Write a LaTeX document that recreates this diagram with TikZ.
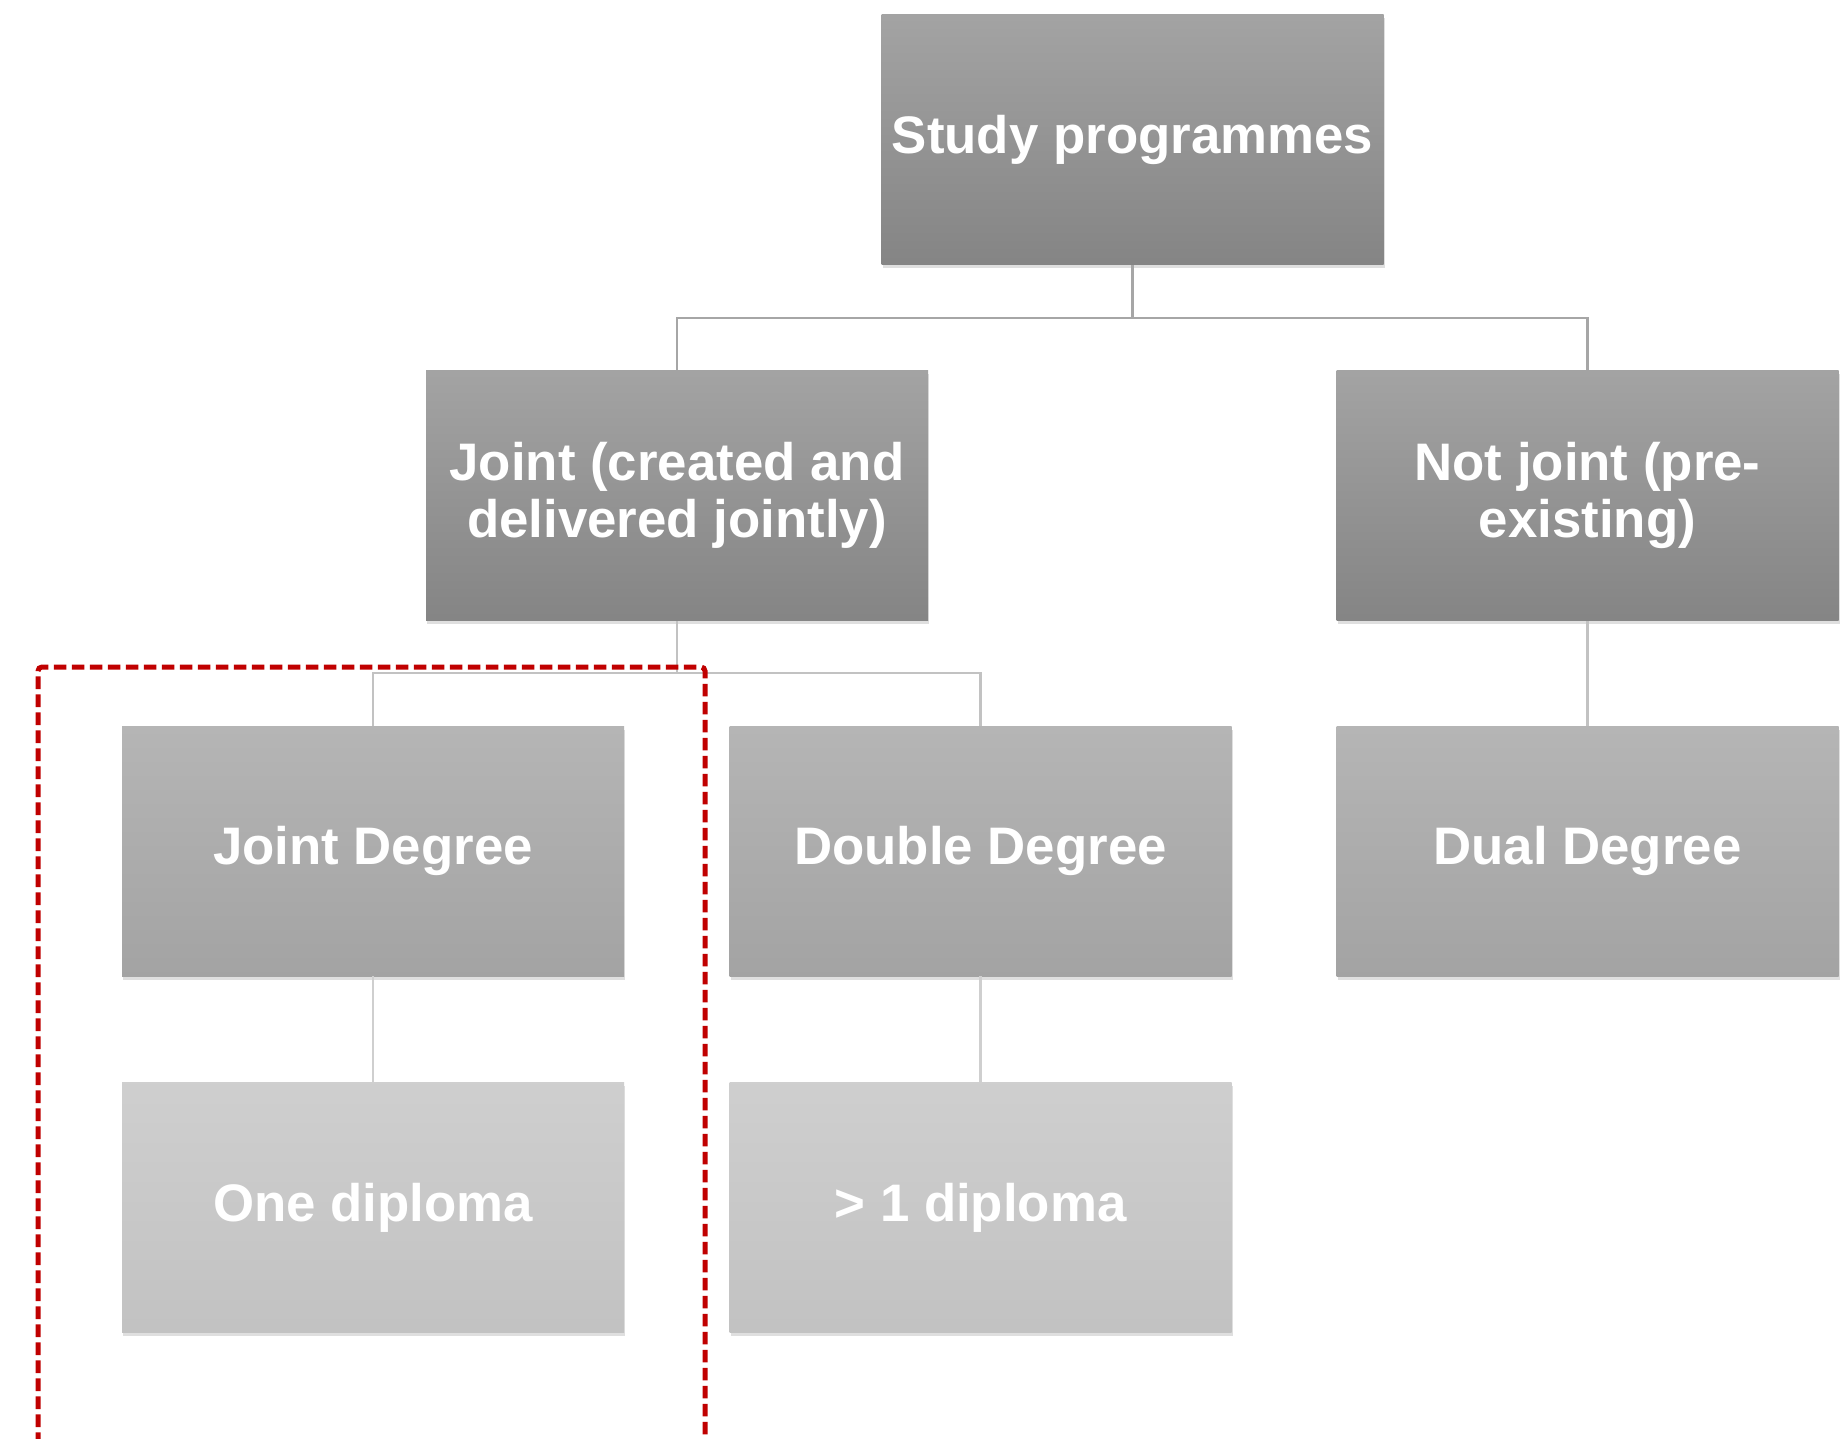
\documentclass[tikz,border=0pt]{standalone}
\usepackage{fontspec}
\setmainfont{Liberation Sans}
\usetikzlibrary{shadows}
\definecolor{redline}{HTML}{C00000}
\tikzset{
  box/.style={rectangle, minimum width=251pt, minimum height=125pt, inner sep=0pt,
    text=white, align=center, font=\bfseries\fontsize{26.4}{28.3}\selectfont,
    drop shadow={opacity=0.25, shadow xshift=0.6pt, shadow yshift=-1.8pt}},
  lvlA/.style={box, top color=black!36, bottom color=black!48},
  lvlB/.style={box, top color=black!29, bottom color=black!36},
  lvlC/.style={box, top color=black!19, bottom color=black!24},
  connA/.style={draw=black!35, line width=1.2pt},
  connB/.style={draw=black!24, line width=1.2pt},
  connC/.style={draw=black!19, line width=1.2pt},
  focus/.style={draw=redline, line width=2.5pt, dash pattern=on 6.3pt off 2.7pt, rounded corners=2pt}
}
\begin{document}
\begin{tikzpicture}[x=0.5pt, y=-0.5pt]
\useasboundingbox (0,0) rectangle (1846,1439);
\fill[white] (0,0) rectangle (1846,1439);

\node[lvlA] (top) at (1132.5,139.5) {\raisebox{-1pt}{Study programmes}};
\node[lvlA] (joint) at (677,495.5) {Joint (created and\\delivered jointly)};
\node[lvlA] (notjoint) at (1587.5,495.5) {Not joint (pre-\\existing)};
\node[lvlB] (jd) at (373,851) {\raisebox{-1pt}{Joint Degree}};
\node[lvlB] (dd) at (980.5,851) {\raisebox{-1pt}{Double Degree}};
\node[lvlB] (dual) at (1587.5,851) {\raisebox{-1pt}{Dual Degree}};
\node[lvlC] (one) at (373,1207.5) {\raisebox{-1pt}{One diploma}};
\node[lvlC] (more) at (980.5,1207.5) {\raisebox{-1pt}{> 1 diploma}};

\coordinate (b1) at (1132.5,318);
\coordinate (b2) at (677,673);

\draw[connA] (top.south) -- (b1);
\draw[connA] (joint.north) |- (b1) -| (notjoint.north);
\draw[connB] (joint.south) -- (b2);
\draw[connB] (jd.north) |- (b2) -| (dd.north);
\draw[connB] (notjoint.south) -- (dual.north);
\draw[connC] (jd.south) -- (one.north);
\draw[connC] (dd.south) -- (more.north);

\coordinate (fbl) at (38,1445);
\coordinate (ftl) at (38,667);
\coordinate (ftr) at (705,667);
\coordinate (fbr) at (705,1445);
\draw[focus] (fbl) -- (ftl) -- (ftr) -- (fbr);
\end{tikzpicture}
\end{document}
